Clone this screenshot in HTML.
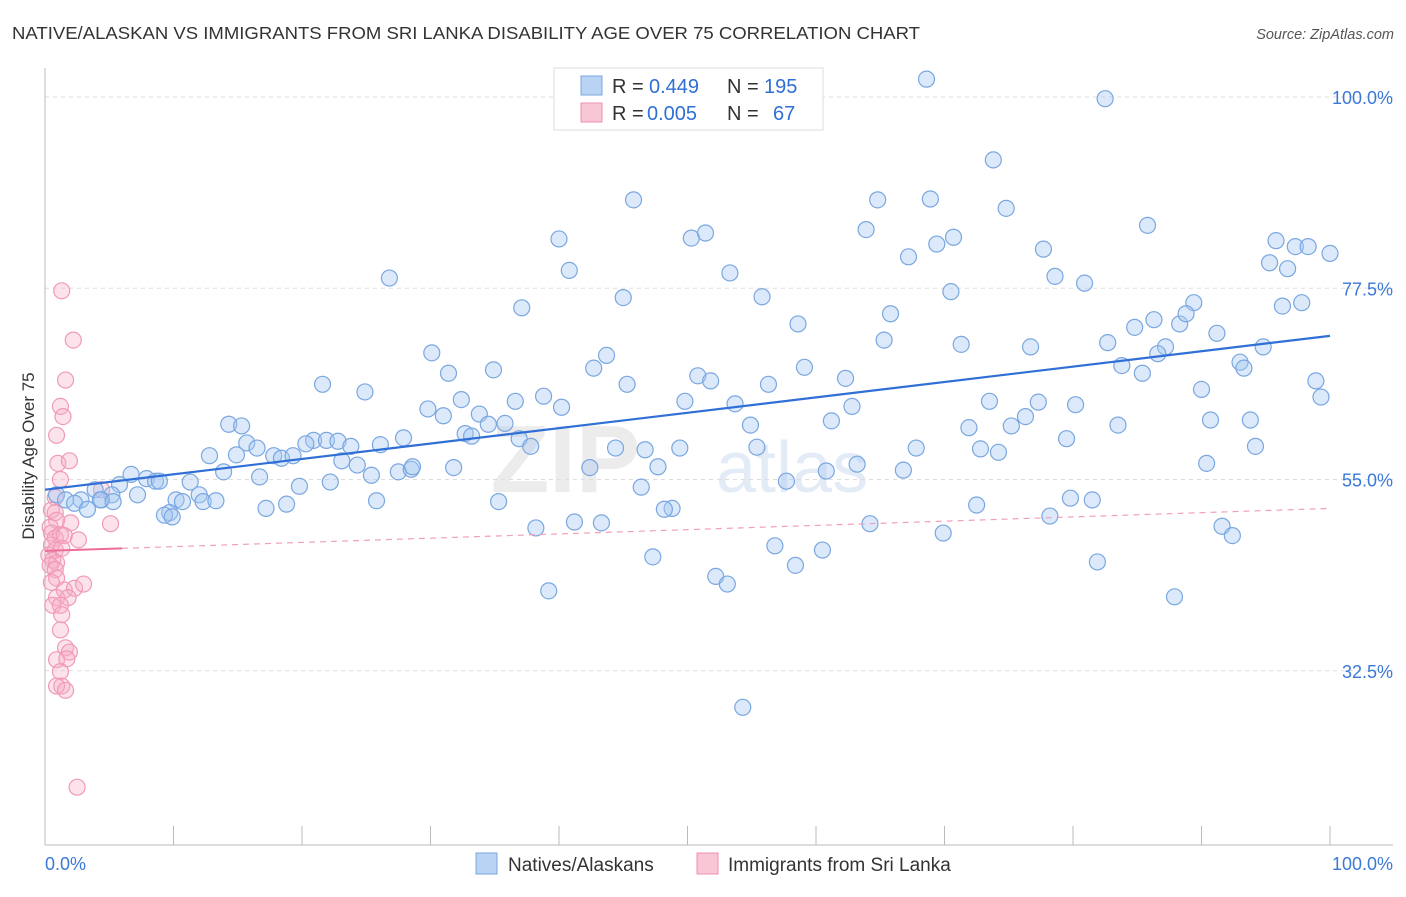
<!DOCTYPE html>
<html><head><meta charset="utf-8"><style>
body{margin:0;background:#fff;font-family:"Liberation Sans",sans-serif;}
svg text{font-family:"Liberation Sans",sans-serif;}
</style></head><body>
<svg id="chart" width="1406" height="892" viewBox="0 0 1406 892">
<text x="12" y="39" font-size="17.5" fill="#333" textLength="908" lengthAdjust="spacingAndGlyphs">NATIVE/ALASKAN VS IMMIGRANTS FROM SRI LANKA DISABILITY AGE OVER 75 CORRELATION CHART</text>
<text x="1394" y="39" font-size="14.5" fill="#555" font-style="italic" text-anchor="end">Source: ZipAtlas.com</text>
<text x="640" y="492" font-size="96" fill="#ececec" font-family="Liberation Serif" font-weight="bold" text-anchor="end">ZIP</text>
<text x="716" y="492" font-size="72" fill="#e3ebf6">atlas</text>
<g id="grid"></g>
<g id="axes"></g>
<g id="marks"></g>
<text transform="translate(34,456) rotate(-90)" font-size="17" fill="#333" text-anchor="middle">Disability Age Over 75</text>
<g>
<rect x="554" y="68" width="269" height="62" fill="#fff" stroke="#ddd"/>
<rect x="581" y="76" width="21" height="19" fill="#b9d3f5" stroke="#7aa7e0"/>
<rect x="581" y="103" width="21" height="19" fill="#f9c6d6" stroke="#f08fb0"/>
<text x="612" y="93" font-size="20" fill="#333">R =</text>
<text x="649" y="93" font-size="20" fill="#2f6fd6">0.449</text>
<text x="727" y="93" font-size="20" fill="#333">N =</text>
<text x="764" y="93" font-size="20" fill="#2f6fd6">195</text>
<text x="612" y="120" font-size="20" fill="#333">R =</text>
<text x="647" y="120" font-size="20" fill="#2f6fd6">0.005</text>
<text x="727" y="120" font-size="20" fill="#333">N =</text>
<text x="773" y="120" font-size="20" fill="#2f6fd6">67</text>
</g>
<g>
<rect x="476" y="853" width="21" height="21" fill="#b9d3f5" stroke="#7aa7e0"/>
<text x="508" y="871" font-size="19" fill="#333">Natives/Alaskans</text>
<rect x="697" y="853" width="21" height="21" fill="#f9c6d6" stroke="#f08fb0"/>
<text x="728" y="871" font-size="19" fill="#333">Immigrants from Sri Lanka</text>
</g>
</svg>
<script>
const yTicks=[100.0,77.5,55.0,32.5];
const yTickLabels=["100.0%","77.5%","55.0%","32.5%"];
const xTickCount=[0,10,20,30,40,50,60,70,80,90,100];
const xEndLabels=["0.0%","100.0%"];
const blueX=[68.6,82.5,73.8,45.8,64.8,68.9,74.8,40.0,50.3,51.4,63.9,70.7,69.4,85.8,95.8,97.3,98.3,100,95.3,96.7,77.7,67.2,53.3,40.8,26.8,78.6,80.9,70.5,55.8,45.0,37.1,89.4,96.3,97.8,65.8,86.3,84.8,88.3,88.8,91.2,58.6,65.3,71.3,76.7,82.7,87.2,86.6,94.8,30.1,43.7,42.7,59.1,83.8,85.4,93.0,93.3,34.9,31.4,50.8,51.8,62.3,21.6,45.3,56.3,98.9,24.9,38.8,90.0,32.4,36.6,49.8,53.7,62.8,73.5,77.3,80.2,40.2,29.8,31.0,33.8,34.5,35.8,61.2,14.3,15.3,54.9,71.9,75.2,76.3,83.5,90.7,93.8,99.3,32.7,33.2,36.9,37.8,27.9,26.1,20.9,21.9,22.8,23.8,20.3,15.7,16.5,46.7,44.4,49.4,55.4,67.8,72.8,74.2,79.5,94.2,12.8,14.9,17.8,18.4,19.3,23.1,24.3,25.4,27.5,28.5,28.6,31.8,42.4,47.7,66.8,63.2,60.8,90.4,13.9,16.7,6.7,7.9,8.6,8.9,11.3,5.8,3.9,5.2,4.4,7.2,19.8,22.2,46.4,57.7,0.9,2.8,4.3,5.3,1.6,2.3,3.3,10.2,10.7,12.0,12.3,13.3,9.7,17.2,18.8,25.8,35.3,48.8,48.2,79.8,81.5,72.5,9.3,9.9,41.2,43.3,38.2,64.2,69.9,78.2,91.6,92.4,56.8,60.5,47.3,58.4,81.9,52.2,53.1,39.2,87.9,54.3];
const blueY=[102.1,99.8,92.6,87.9,87.9,88.0,86.9,83.3,83.4,84.0,84.4,83.5,82.7,84.9,83.1,82.4,82.4,81.6,80.5,79.8,82.1,81.2,79.3,79.6,78.7,78.9,78.1,77.1,76.5,76.4,75.2,75.8,75.4,75.8,74.5,73.8,72.9,73.3,74.5,72.2,73.3,71.4,70.9,70.6,71.1,70.6,69.8,70.6,69.9,69.6,68.1,68.2,68.4,67.5,68.8,68.1,67.9,67.5,67.2,66.6,66.9,66.2,66.2,66.2,66.6,65.3,64.8,65.6,64.4,64.2,64.2,63.9,63.6,64.2,64.1,63.8,63.5,63.3,62.5,62.7,61.5,61.6,61.9,61.5,61.3,61.4,61.1,61.3,62.4,61.4,62.0,62.0,64.7,60.4,60.1,59.8,58.9,59.9,59.1,59.6,59.6,59.5,58.9,59.2,59.3,58.7,58.5,58.7,58.7,58.8,58.7,58.6,58.2,59.8,58.9,57.8,57.9,57.8,57.5,57.8,57.2,56.7,55.5,55.9,56.2,56.5,56.4,56.4,56.5,56.1,56.8,56.0,56.9,55.9,55.3,55.6,55.1,54.8,54.8,54.7,54.4,53.8,53.2,52.6,53.2,54.2,54.7,54.1,54.8,53.2,52.6,52.6,52.4,52.6,52.2,51.5,52.6,52.4,53.2,52.4,52.5,51.1,51.6,52.1,52.5,52.4,51.6,51.5,52.8,52.6,52.0,50.8,50.6,50.0,49.9,49.3,49.8,48.7,50.7,49.5,48.4,47.2,46.7,45.9,44.9,45.3,43.6,42.7,41.9,41.2,28.2];
const pinkX=[1.3,2.2,1.6,1.2,1.4,0.9,1.0,1.9,1.2,4.4,0.8,2.0,5.1,0.5,0.8,0.9,0.4,0.5,0.8,1.2,1.5,0.5,0.8,0.3,0.6,0.9,0.4,0.8,2.6,1.3,0.9,0.5,1.5,2.3,3.0,0.9,1.8,0.6,1.2,1.3,1.2,1.6,1.9,0.9,1.7,1.2,1.3,0.9,1.6,2.5];
const pinkY=[77.2,71.4,66.7,63.6,62.4,60.2,56.9,57.2,55.0,53.8,52.9,49.9,49.8,51.4,51.1,50.2,49.4,48.7,48.1,48.5,48.4,47.3,46.7,46.1,45.5,45.2,44.9,44.4,47.9,46.9,43.4,42.9,42.0,42.2,42.7,41.1,41.1,40.2,40.2,39.1,37.3,35.2,34.7,33.8,33.9,32.4,30.7,30.7,30.2,18.8];
const blueTrend=[53.8,71.9];
const pinkTrend=[46.6,51.6];
const pinkSolidEnd=6;

const X0=45,X1=1330,YA=97,YPER=8.5;
const sx=v=>X0+(X1-X0)*v/100;
const sy=v=>YA+(100-v)*YPER;
const NS="http://www.w3.org/2000/svg";
function mk(tag,attrs,parent){const e=document.createElementNS(NS,tag);for(const k in attrs)e.setAttribute(k,attrs[k]);parent.appendChild(e);return e;}
const grid=document.getElementById('grid'),axes=document.getElementById('axes'),marks=document.getElementById('marks');
yTicks.forEach((t,i)=>{
 const l=mk('line',{x1:X0,x2:1393,y1:sy(t),y2:sy(t),stroke:'#ddd','stroke-dasharray':'4,4'},grid);
 
 
 const tx=mk('text',{x:1393,y:sy(t)+7,'font-size':18,fill:'#3b78d8','text-anchor':'end'},grid);
 tx.textContent=yTickLabels[i];
 
 
});
const ya=mk('line',{x1:X0,x2:X0,y1:68,y2:845,stroke:'#bbb'},axes);


const xa=mk('line',{x1:X0,x2:1393,y1:845,y2:845,stroke:'#bbb'},axes);


xTickCount.forEach(t=>{
 const l=mk('line',{x1:sx(t),x2:sx(t),y1:826,y2:845,stroke:'#bbb'},axes);
 
 
});
const xl0=mk('text',{x:45,y:870,'font-size':18,fill:'#3b78d8'},axes);xl0.textContent=xEndLabels[0];


const xl1=mk('text',{x:1393,y:870,'font-size':18,fill:'#3b78d8','text-anchor':'end'},axes);xl1.textContent=xEndLabels[1];


pinkX.forEach((x,i)=>{
 const c=mk('circle',{cx:sx(x),cy:sy(pinkY[i]),r:8,fill:'rgba(246,172,198,0.35)',stroke:'#f09ab8','stroke-width':1.2},marks);
 
 
});
blueX.forEach((x,i)=>{
 const c=mk('circle',{cx:sx(x),cy:sy(blueY[i]),r:8,fill:'rgba(165,199,242,0.4)',stroke:'#7aa7e0','stroke-width':1.2},marks);
 
 
});
const bt=mk('line',{x1:sx(0),y1:sy(blueTrend[0]),x2:sx(100),y2:sy(blueTrend[1]),stroke:'#2f6fd6','stroke-width':2.2},marks);


const pm=pinkTrend[0]+(pinkTrend[1]-pinkTrend[0])*pinkSolidEnd/100;
const pt=mk('line',{x1:sx(0),y1:sy(pinkTrend[0]),x2:sx(pinkSolidEnd),y2:sy(pm),stroke:'#ec6d98','stroke-width':2},marks);


const pd=mk('line',{x1:sx(pinkSolidEnd),y1:sy(pm),x2:sx(100),y2:sy(pinkTrend[1]),stroke:'#f0a0bc','stroke-width':1.2,'stroke-dasharray':'6,5'},marks);


</script>
</body></html>
